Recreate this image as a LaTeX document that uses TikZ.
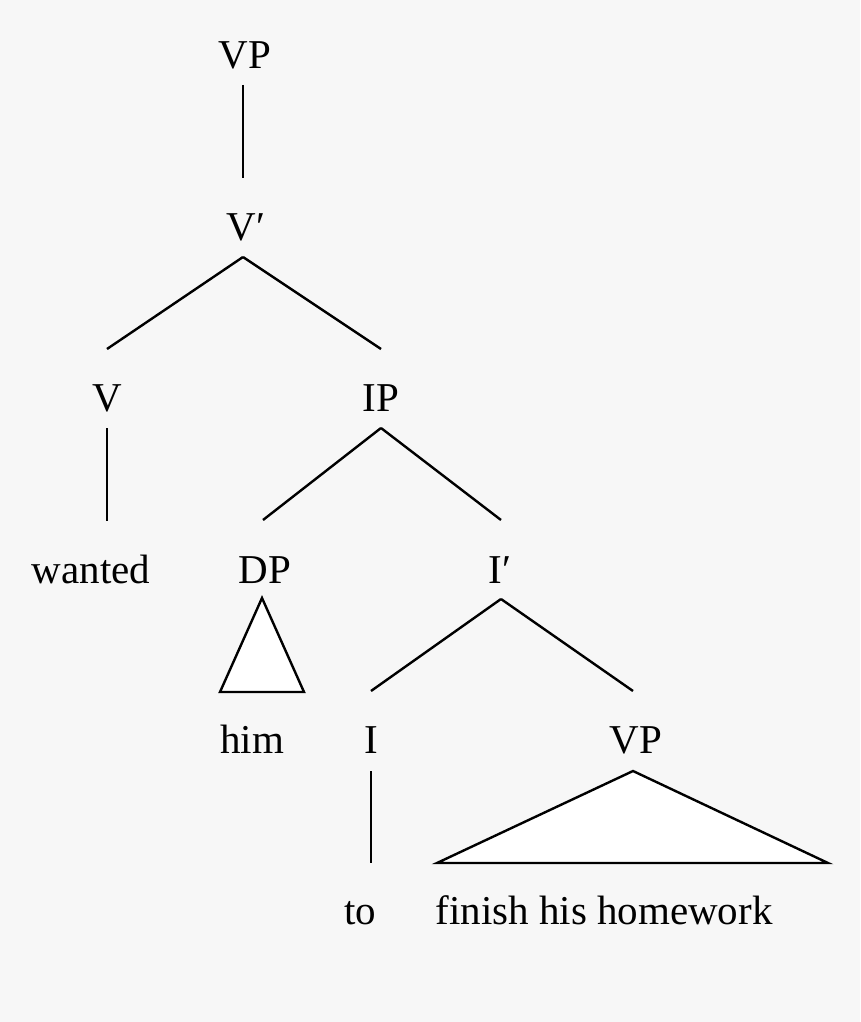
\documentclass[tikz,border=0pt]{standalone}
\usepackage{fontspec}
\setmainfont{Liberation Serif}
\usetikzlibrary{calc}
\definecolor{bgcol}{HTML}{F7F7F7}
\begin{document}
\begin{tikzpicture}[x=1pt,y=-1pt,
  lbl/.style={anchor=base, inner sep=0pt, font=\fontsize{41}{49}\selectfont},
  edge/.style={line width=2.4pt},
  tri/.style={line width=2.4pt, fill=white, line join=miter}]
\fill[bgcol] (0,0) rectangle (860,1022);
\useasboundingbox (0,0) rectangle (860,1022);
% labels
\node[lbl] (vp1) at (245,69) {VP};
\node[lbl] (vbar) at (246,240) {V′};
\node[lbl] (v) at (107,411) {V};
\node[lbl] (ip) at (381,411) {IP};
\node[lbl] (wanted) at (91,583) {wanted};
\node[lbl] (dp) at (265,583) {DP};
\node[lbl] (ibar) at (500,583) {I′};
\node[lbl] (him) at (252,753) {him};
\node[lbl] (i) at (371,753) {I};
\node[lbl] (vp2) at (636,753) {VP};
\node[lbl] (to) at (360,924) {to};
\node[lbl] (fhh) at (604,924) {finish his homework};
% connectors
\draw[edge] ($(vp1.base)+(-2,16)$) -- ($(vbar.base)+(-3,-62)$);
\draw[edge] ($(v.base)+(136,-154)$) coordinate (vapex) -- ($(v.base)+(0,-62)$);
\draw[edge] (vapex) -- ($(ip.base)+(0,-62)$);
\draw[edge] ($(v.base)+(0,17)$) -- ($(v.base |- wanted.base)+(0,-62)$);
\draw[edge] ($(ip.base)+(0,-63)$) ++(0,80) coordinate (ipapex) -- ($(dp.base)+(-2,-63)$);
\draw[edge] (ipapex) -- ($(ibar.base)+(1,-63)$);
\draw[edge] ($(ibar.base)+(1,16)$) coordinate (ibapex) -- ($(i.base)+(0,-62)$);
\draw[edge] (ibapex) -- ($(vp2.base)+(-3,-62)$);
\draw[edge] ($(i.base)+(0,18)$) -- ($(i.base |- to.base)+(0,-61)$);
% triangles
\draw[tri] ($(dp.base)+(-3,15)$) -- ($(dp.base |- him.base)+(-45,-61)$) -- ($(dp.base |- him.base)+(39,-61)$) -- cycle;
\draw[tri] ($(vp2.base)+(-3,18)$) -- ($(vp2.base |- fhh.base)+(-199,-61)$) -- ($(vp2.base |- fhh.base)+(192,-61)$) -- cycle;
\end{tikzpicture}
\end{document}
